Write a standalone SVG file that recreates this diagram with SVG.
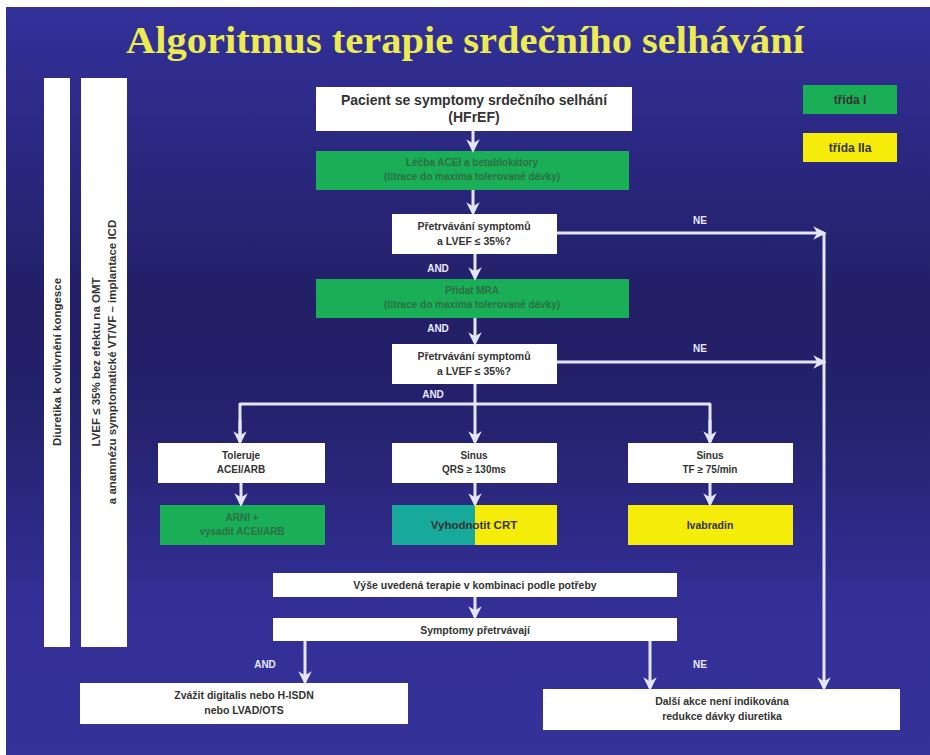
<svg xmlns="http://www.w3.org/2000/svg" width="930" height="755" viewBox="0 0 930 755">
<defs>
<linearGradient id="bg" x1="0" y1="0" x2="0" y2="1">
<stop offset="0" stop-color="#33309a"/>
<stop offset="0.4" stop-color="#221f66"/>
<stop offset="0.55" stop-color="#25226e"/>
<stop offset="0.8" stop-color="#332f96"/>
<stop offset="1" stop-color="#35329a"/>
</linearGradient>
<linearGradient id="crt" x1="0" y1="0" x2="1" y2="0">
<stop offset="0" stop-color="#17a99a"/>
<stop offset="0.5" stop-color="#17a99a"/>
<stop offset="0.5" stop-color="#f5ec0a"/>
<stop offset="1" stop-color="#f5ec0a"/>
</linearGradient>
<marker id="ah" viewBox="0 0 10 10" refX="8" refY="5" markerWidth="4.5" markerHeight="4.5" orient="auto" markerUnits="strokeWidth">
<path d="M0,0 L10,5 L0,10 L3,5 Z" fill="#e4e4fa"/>
</marker>
</defs>
<style>
.w{fill:#ffffff}
.g{fill:#1aae57}
.y{fill:#f5ec0a}
.t{font-family:"Liberation Sans",Arial,sans-serif;font-weight:bold;fill:#333333;text-anchor:middle}
.tg{font-family:"Liberation Sans",Arial,sans-serif;font-weight:bold;fill:#2d6f46;text-anchor:middle;font-size:10px}
.lbl{font-family:"Liberation Sans",Arial,sans-serif;font-weight:bold;fill:#e8e8ff;text-anchor:middle;font-size:10px}
.c{stroke:#e4e4fa;stroke-width:3;fill:none}
.ca{stroke:#e4e4fa;stroke-width:3;fill:none;marker-end:url(#ah)}
</style>
<rect x="0" y="0" width="930" height="755" fill="#ffffff"/>
<rect x="6" y="7" width="924" height="748" fill="url(#bg)"/>
<text x="465" y="53" font-family="Liberation Serif,'Times New Roman',serif" font-weight="bold" font-size="37" fill="#ecec50" text-anchor="middle" textLength="678" lengthAdjust="spacingAndGlyphs">Algoritmus terapie srdečního selhávání</text>

<g id="legend-I"><rect x="803" y="85" width="94" height="29" class="g"/><text x="850" y="104" class="t" font-size="12" fill="#222">třída I</text></g>
<g id="legend-IIa"><rect x="803" y="133" width="94" height="29" class="y"/><text x="850" y="152" class="t" font-size="12" fill="#222">třída IIa</text></g>

<g id="side-diuretika"><rect x="44" y="78" width="26" height="569" class="w"/>
<text transform="translate(61,362) rotate(-90)" class="t" font-size="11.5">Diuretika k ovlivnění kongesce</text></g>
<g id="side-icd"><rect x="81" y="78" width="46" height="569" class="w"/>
<text transform="translate(100,362) rotate(-90)" class="t" font-size="11.5">LVEF ≤ 35% bez efektu na OMT</text>
<text transform="translate(116,362) rotate(-90)" class="t" font-size="11.5">a anamnézu symptomatické VT/VF – implantace ICD</text></g>

<g id="n1"><rect x="316" y="87" width="316" height="44" class="w"/>
<text x="474" y="105" class="t" font-size="14">Pacient se symptomy  srdečního selhání</text>
<text x="474" y="122" class="t" font-size="14">(HFrEF)</text></g>
<g id="n2"><rect x="316" y="151" width="313" height="39" class="g"/>
<text x="472" y="166" class="tg">Léčba ACEI a betablokátory</text>
<text x="472" y="180" class="tg">(titrace do maxima tolerované dávky)</text></g>
<g id="n3"><rect x="392" y="214" width="165" height="40" class="w"/>
<text x="474" y="230" class="t" font-size="10.5">Přetrvávání symptomů</text>
<text x="474" y="245" class="t" font-size="10.5">a LVEF ≤ 35%?</text></g>
<g id="n4"><rect x="316" y="279" width="313" height="39" class="g"/>
<text x="472" y="294" class="tg">Přidat MRA</text>
<text x="472" y="308" class="tg">(titrace do maxima tolerované dávky)</text></g>
<g id="n5"><rect x="392" y="344" width="165" height="40" class="w"/>
<text x="474" y="360" class="t" font-size="10.5">Přetrvávání symptomů</text>
<text x="474" y="375" class="t" font-size="10.5">a LVEF ≤ 35%?</text></g>

<g id="n6"><rect x="158" y="443" width="167" height="40" class="w"/>
<text x="241" y="459" class="t" font-size="10">Toleruje</text>
<text x="241" y="473" class="t" font-size="10">ACEI/ARB</text></g>
<g id="n7"><rect x="392" y="443" width="165" height="40" class="w"/>
<text x="474" y="459" class="t" font-size="10">Sinus</text>
<text x="474" y="473" class="t" font-size="10">QRS ≥ 130ms</text></g>
<g id="n8"><rect x="628" y="443" width="165" height="40" class="w"/>
<text x="710" y="459" class="t" font-size="10">Sinus</text>
<text x="710" y="473" class="t" font-size="10">TF ≥ 75/min</text></g>

<g id="n9"><rect x="160" y="505" width="165" height="40" class="g"/>
<text x="242" y="521" class="tg">ARNI +</text>
<text x="242" y="535" class="tg">vysadit ACEI/ARB</text></g>
<g id="n10"><rect x="392" y="505" width="165" height="40" fill="url(#crt)"/>
<text x="474" y="529" class="t" font-size="11.5">Vyhodnotit CRT</text></g>
<g id="n11"><rect x="628" y="505" width="165" height="40" class="y"/>
<text x="710" y="529" class="t" font-size="10.5" fill="#4a4a20">Ivabradin</text></g>

<g id="n12"><rect x="273" y="573" width="404" height="24" class="w"/>
<text x="475" y="589" class="t" font-size="10.5">Výše uvedená terapie v kombinaci podle potřeby</text></g>
<g id="n13"><rect x="273" y="618" width="404" height="23" class="w"/>
<text x="475" y="634" class="t" font-size="10.5">Symptomy přetrvávají</text></g>
<g id="n14"><rect x="80" y="683" width="328" height="41" class="w"/>
<text x="244" y="699" class="t" font-size="10.5">Zvážit digitalis nebo H-ISDN</text>
<text x="244" y="714" class="t" font-size="10.5">nebo LVAD/OTS</text></g>
<g id="n15"><rect x="543" y="689" width="357" height="41" class="w"/>
<text x="722" y="705" class="t" font-size="10.5">Další akce není indikována</text>
<text x="722" y="720" class="t" font-size="10.5">redukce dávky diuretika</text></g>

<g id="connectors">
<line x1="473" y1="131" x2="473" y2="150" class="ca"/>
<line x1="473" y1="190" x2="473" y2="213" class="ca"/>
<line x1="557" y1="233" x2="824" y2="233" class="ca"/>
<line x1="475" y1="254" x2="475" y2="278" class="ca"/>
<line x1="475" y1="318" x2="475" y2="343" class="ca"/>
<line x1="557" y1="362" x2="824" y2="362" class="ca"/>
<line x1="824" y1="233" x2="824" y2="688" class="ca"/>
<line x1="475" y1="384" x2="475" y2="404" class="c"/>
<polyline points="240,442 240,404 710,404 710,442" class="c" stroke-linejoin="round"/>
<line x1="240" y1="420" x2="240" y2="442" class="ca"/>
<line x1="475" y1="404" x2="475" y2="442" class="ca"/>
<line x1="710" y1="420" x2="710" y2="442" class="ca"/>
<line x1="241" y1="483" x2="241" y2="504" class="ca"/>
<line x1="475" y1="483" x2="475" y2="504" class="ca"/>
<line x1="710" y1="483" x2="710" y2="504" class="ca"/>
<line x1="475" y1="597" x2="475" y2="617" class="ca"/>
<line x1="305" y1="641" x2="305" y2="682" class="ca"/>
<line x1="650" y1="641" x2="650" y2="688" class="ca"/>
<text x="700" y="224" class="lbl">NE</text>
<text x="700" y="352" class="lbl">NE</text>
<text x="438" y="272" class="lbl">AND</text>
<text x="438" y="332" class="lbl">AND</text>
<text x="433" y="398" class="lbl">AND</text>
<text x="265" y="668" class="lbl">AND</text>
<text x="700" y="668" class="lbl">NE</text>
</g>
</svg>
